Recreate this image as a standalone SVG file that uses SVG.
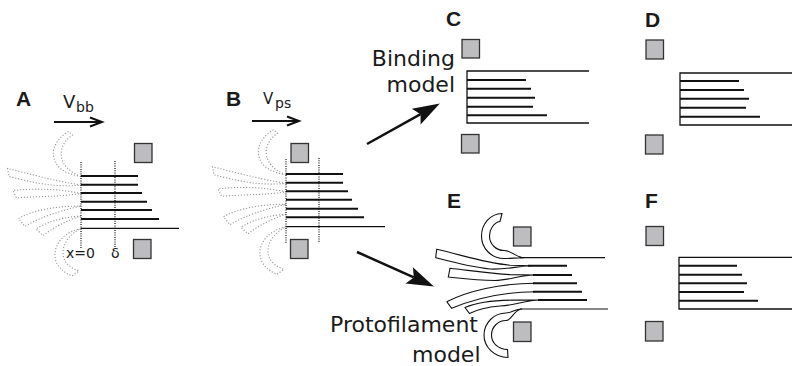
<svg xmlns="http://www.w3.org/2000/svg" xmlns:xlink="http://www.w3.org/1999/xlink" width="796" height="366" viewBox="0 0 796 366">
<style>
.lbl{font-family:"Liberation Sans",Arial,sans-serif;font-weight:bold;font-size:21px;fill:#1a1a1a}
.txt{font-family:"DejaVu Sans","Noto Sans",sans-serif;font-size:22px;fill:#1a1a1a}
.sm{font-family:"DejaVu Sans","Noto Sans",sans-serif;fill:#1a1a1a}
.sq{fill:#bdbdc0;stroke:#333;stroke-width:1.3}
.mt{stroke:#111;stroke-width:1.9;fill:none}
.thin{stroke:#111;stroke-width:1.2;fill:none}
.box{stroke:#111;stroke-width:1.3;fill:none}
.dot{fill:none;stroke:#9a9a9a;stroke-width:1.1;stroke-dasharray:1.2 1.8}
.vdot{stroke:#111;stroke-width:1.2;stroke-dasharray:1 1.3}
.band{fill:none;stroke:#111;stroke-width:1.1}
.arr{stroke:#111;stroke-width:2.5;fill:none}
.sarr{stroke:#111;stroke-width:2;fill:none}
</style>
<defs>
<marker id="big" markerUnits="userSpaceOnUse" markerWidth="28" markerHeight="20" refX="5" refY="9" orient="auto" overflow="visible"><path d="M0,0 L27,9 L0,18 L5,9 Z" fill="#111"/></marker>
<marker id="small" markerUnits="userSpaceOnUse" markerWidth="16" markerHeight="12" refX="13" refY="5" orient="auto" overflow="visible"><path d="M1,0.5 L13,5 L1,9.5" fill="none" stroke="#111" stroke-width="2"/></marker>
<g id="curls" class="dot">
<path d="M81,176.5 C66,174 55,168 53.5,156 C52,146 60,136 68.5,131.5 L72.5,135 C65,140 60,148 61.5,157 C63,166 70,172 81,176.5 Z"/>
<path d="M81,185 C55,181 30,174 7.5,168.5 L9,176.5 C30,182 55,188 81,185 Z"/>
<path d="M81,193.5 C60,189 35,188 13,190.5 L16.5,198 C38,196 60,197 81,193.5 Z"/>
<path d="M81,206 C60,206 35,209 18.5,218.5 L25,226.5 C40,217 60,211 81,206 Z"/>
<path d="M81,216 C65,217 48,221 36,229 L43,235.5 C54,227 68,220 81,216 Z"/>
<path d="M81,228.5 C65,232 56,242 55,253 C54,264 62,272 72,276 L79,271 C70,268 63,262 63,253 C63,243 70,234 81,228.5 Z"/>
</g>
</defs>
<rect width="796" height="366" fill="#fff"/>

<g id="panelA">
<text class="lbl" x="16" y="106">A</text>
<text class="sm" x="63" y="107.5" font-size="18">V</text>
<text class="sm" x="76" y="111.7" font-size="14">bb</text>
<line class="sarr" x1="54" y1="122" x2="102" y2="122" marker-end="url(#small)"/>
<use xlink:href="#curls" href="#curls"/>
<line class="vdot" x1="81" y1="162" x2="81" y2="248"/>
<line class="vdot" x1="115" y1="161" x2="115" y2="248"/>
<line class="mt" x1="81" y1="176" x2="138" y2="176"/>
<line class="mt" x1="81" y1="184.7" x2="138" y2="184.7"/>
<line class="mt" x1="81" y1="193" x2="142" y2="193"/>
<line class="mt" x1="81" y1="201.7" x2="147" y2="201.7"/>
<line class="mt" x1="81" y1="210" x2="152" y2="210"/>
<line class="mt" x1="81" y1="219" x2="159" y2="219"/>
<line class="thin" x1="81" y1="228.3" x2="179" y2="228.3"/>
<rect class="sq" x="134.5" y="143.5" width="17.5" height="19"/>
<rect class="sq" x="133.5" y="239.5" width="17.5" height="19"/>
<text class="sm" x="66" y="258" font-size="14">x=0</text>
<text class="sm" x="111" y="258" font-size="14">δ</text>
</g>

<g id="panelB">
<text class="lbl" x="226" y="106">B</text>
<text class="sm" x="263" y="103.5" font-size="15">V</text>
<text class="sm" x="275" y="107.5" font-size="14">ps</text>
<line class="sarr" x1="252" y1="121" x2="299" y2="121" marker-end="url(#small)"/>
<use xlink:href="#curls" href="#curls" x="205" y="-1.7"/>
<line class="vdot" x1="286" y1="159" x2="286" y2="243"/>
<line class="vdot" x1="319" y1="158" x2="319" y2="243"/>
<line class="mt" x1="286" y1="174" x2="343" y2="174"/>
<line class="mt" x1="286" y1="182.7" x2="343" y2="182.7"/>
<line class="mt" x1="286" y1="191.3" x2="348" y2="191.3"/>
<line class="mt" x1="286" y1="199.7" x2="352" y2="199.7"/>
<line class="mt" x1="286" y1="208.7" x2="358" y2="208.7"/>
<line class="mt" x1="286" y1="217.3" x2="364" y2="217.3"/>
<line class="thin" x1="286" y1="226.7" x2="385" y2="226.7"/>
<rect class="sq" x="291" y="143.5" width="17.5" height="19"/>
<rect class="sq" x="290.5" y="239.5" width="17.5" height="19"/>
</g>

<g id="panelC">
<text class="lbl" x="446" y="26">C</text>
<rect class="sq" x="462" y="39.5" width="17.5" height="18.5"/>
<rect class="sq" x="461.5" y="134.5" width="17.5" height="18.5"/>
<text class="txt" x="455" y="66" text-anchor="end">Binding</text>
<text class="txt" x="455" y="92" text-anchor="end">model</text>
<path class="box" d="M589,71 H467 V123 H589"/>
<line class="mt" x1="467" y1="80" x2="526" y2="80"/>
<line class="mt" x1="467" y1="88.7" x2="531" y2="88.7"/>
<line class="mt" x1="467" y1="97.7" x2="535" y2="97.7"/>
<line class="mt" x1="467" y1="106.7" x2="533" y2="106.7"/>
<line class="mt" x1="467" y1="115.3" x2="547" y2="115.3"/>
</g>

<g id="panelD">
<text class="lbl" x="645" y="27">D</text>
<rect class="sq" x="646" y="40" width="17.5" height="19"/>
<rect class="sq" x="645.5" y="135" width="17.5" height="19"/>
<path class="box" d="M792,73 H680 V125 H792"/>
<line class="mt" x1="680" y1="81" x2="739" y2="81"/>
<line class="mt" x1="680" y1="90" x2="744" y2="90"/>
<line class="mt" x1="680" y1="98.7" x2="749" y2="98.7"/>
<line class="mt" x1="680" y1="107.7" x2="746" y2="107.7"/>
<line class="mt" x1="680" y1="116.7" x2="760" y2="116.7"/>
</g>

<g id="panelE">
<text class="lbl" x="447" y="208">E</text>
<rect class="sq" x="513.5" y="227" width="17.5" height="19"/>
<rect class="sq" x="513.5" y="322" width="17.5" height="19.5"/>
<path class="band" d="M524,257.7 C516,257.7 511,258.5 504,258.5 C491,258.5 481.5,248 481.5,236 C481.5,224 490,214 502,213.5 L500,221.5 C494,222.5 489.5,229 489.5,236 C489.5,244 496,250.5 504,250.5 C512,250.5 516,257.7 524,257.7 Z"/>
<path class="band" d="M436.7,249.3 C462,255 485,263 510,265.2 L532,265.7 C518,266 505,270 490,269 C470,267 452,262 435.7,257.7 Z"/>
<path class="band" d="M450,268.3 C470,270.5 490,273.5 510,274.6 L535,275 C520,275.2 510,280 495,280.5 C478,280.5 462,278.5 448.3,277 Z"/>
<path class="band" d="M446.7,301.7 C468,291 500,283.3 535,283.3 M535,291.7 C505,292 476,298 451.7,308.3 L446.7,301.7"/>
<path class="band" d="M465,307.5 C478,302 495,300.3 512,300.1 L540,300 C525,300.2 515,305.5 500,306 C488,307 478,309 469.5,313.5 Z"/>
<path class="band" d="M522,309 C515,309 511,313 506,313 C494,313 484,323 484,335 C484,347 494,357 508,357.5 L507.5,349.5 C498,349 491.5,343 491.5,335 C491.5,327 498,320.5 506,320.5 C512,320.5 514,309 522,309 Z"/>
<line class="thin" x1="520" y1="257.7" x2="605" y2="257.7"/>
<line class="mt" x1="528" y1="265.7" x2="567" y2="265.7"/>
<line class="mt" x1="533" y1="275" x2="572" y2="275"/>
<line class="mt" x1="533" y1="283.3" x2="577" y2="283.3"/>
<line class="mt" x1="533" y1="291.7" x2="582" y2="291.7"/>
<line class="mt" x1="538" y1="300" x2="587" y2="300"/>
<line class="thin" x1="520" y1="309" x2="608" y2="309"/>
<text class="txt" x="330" y="332">Protofilament</text>
<text class="txt" x="412" y="362">model</text>
</g>

<g id="panelF">
<text class="lbl" x="645" y="208">F</text>
<rect class="sq" x="646" y="226.5" width="17.5" height="19"/>
<rect class="sq" x="645.5" y="321.5" width="17.5" height="19.5"/>
<path class="box" d="M792,257.3 H679 V309 H792"/>
<line class="mt" x1="679" y1="265.7" x2="737" y2="265.7"/>
<line class="mt" x1="679" y1="274.7" x2="742" y2="274.7"/>
<line class="mt" x1="679" y1="283.3" x2="747" y2="283.3"/>
<line class="mt" x1="679" y1="292" x2="744" y2="292"/>
<line class="mt" x1="679" y1="300.7" x2="758" y2="300.7"/>
</g>

<g id="connectors">
<line class="arr" x1="367" y1="144" x2="420.6" y2="114.2" marker-end="url(#big)"/>
<line class="arr" x1="357" y1="252" x2="413.8" y2="277.4" marker-end="url(#big)"/>
</g>
</svg>
